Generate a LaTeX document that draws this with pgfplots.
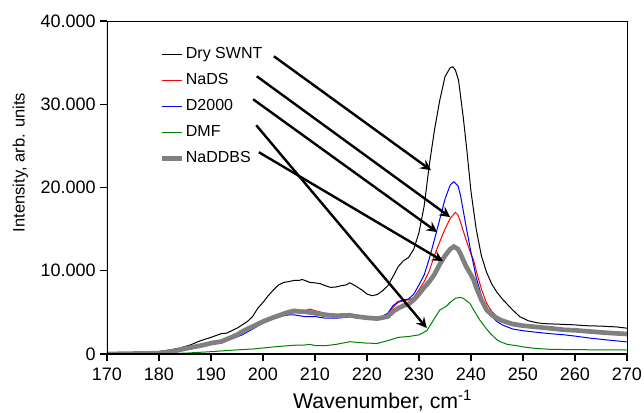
\documentclass[border=0pt]{standalone}
\usepackage{pgfplots}
\pgfplotsset{compat=1.18}
\usepackage{fontspec}
\setmainfont{Liberation Sans}
\usetikzlibrary{arrows.meta}
\definecolor{ngreen}{RGB}{0,128,0}
\definecolor{ngray}{RGB}{128,128,128}
\begin{document}
\begin{tikzpicture}
\begin{axis}[
  at={(0,0)}, anchor=south west,
  scale only axis, width=390pt, height=249.75pt,
  xmin=170, xmax=270, ymin=0, ymax=40000,
  xtick={170,180,...,270},
  ytick={0,10000,20000,30000,40000},
  yticklabels={0,10.000,20.000,30.000,40.000},
  scaled y ticks=false,
  /pgf/number format/assume math mode=true,
  ticklabel style={font=\fontsize{13.5}{15}\selectfont},
  xticklabel style={yshift=-2pt},
  tick align=outside, xtick pos=bottom, ytick pos=left,
  major tick length=5pt,
  tick style={black, line width=0.8pt},
  axis line style={line width=0.6pt},
  xlabel={Wavenumber, cm\textsuperscript{-1}},
  ylabel={Intensity, arb. units},
  xlabel style={font=\fontsize{16}{18}\selectfont, at={(ticklabel cs:0.53)}, yshift=0pt},
  ylabel style={font=\fontsize{12.4}{14}\selectfont, at={(ticklabel cs:0.575)}, yshift=2.5pt},
  legend style={draw=none, fill=none, inner sep=0pt,
    at={(rel axis cs:0.1,0.93)}, anchor=north west,
    font=\fontsize{12}{14}\selectfont, row sep=4.5pt,
    nodes={text height=9pt, text depth=3pt, inner sep=1.5pt},
    cells={anchor=west}},
  legend image code/.code={\draw[#1] (0pt,0pt) -- (15pt,0pt);},
]
\addplot[black, line width=0.75pt] coordinates {
(170,0) (172,30) (175,80) (178,200) (180,300) (182,480) (184,720) (186,1080)
(188,1600) (190,2000) (192,2450) (193,2500) (195,3100) (197,3900) (198,4500)
(199,5500) (200,6200) (201,7000) (202,7700) (203,8300) (204,8600) (205,8700)
(206,8850) (207,8850) (207.5,8950) (208,8850) (209,8600) (210,8550) (211,8450)
(212,8200) (213,8000) (214,8050) (215,8200) (216,8300) (216.7,8550) (218,8100)
(219,7700) (220,7200) (221,7000) (222,7150) (223,7600) (224,8200) (225,9300)
(226,10500) (227,11200) (228,11600) (229,12600) (230,14600) (231,17800)
(232,22800) (233,27000) (234,30500) (235,33300) (236,34400) (236.5,34500)
(237,34100) (237.6,32900) (238.5,28500) (239.2,24500) (240,19500) (241,15000)
(242,11800) (243,9800) (244,8400) (245,7400) (246.2,6480) (248,5300) (249.4,4480)
(251,4000) (252.6,3760) (254,3650) (256,3600) (258,3550) (260,3500)
(262,3400) (265,3350) (268,3250) (270,3100)
};
\addlegendentry{Dry SWNT}
\addplot[red, line width=0.75pt] coordinates {
(170,0) (175,50) (180,150) (183,300) (185,600) (188,1000) (190,1300) (192,1600)
(194,1900) (196,2600) (198,3300) (200,4000) (202,4500) (204,5000) (206,5400)
(207,5300) (208,5200) (209,5400) (210,5200) (212,4900) (214,4700) (216,4600)
(218,4700) (220,4400) (222,4300) (224,4700) (225,5600) (226,6200) (227,6400)
(228,6500) (229,6800) (230,7700) (231,8700) (232,10000) (233,11900) (234,13500)
(235,15000) (236,16300) (237,17000) (237.5,16700) (238,15800) (239,13800)
(240,12000) (240.5,11300) (241,10000) (242,7800) (243,6100) (244,5100)
(245,4500) (246,4100) (248,3600) (250,3350) (252,3200) (255,3050) (258,2900)
(260,2850) (265,2650) (270,2450)
};
\addlegendentry{NaDS}
\addplot[blue, line width=0.75pt] coordinates {
(170,0) (175,40) (180,150) (183,300) (185,550) (188,900) (190,1200) (192,1500)
(194,1800) (196,2300) (198,3000) (200,3700) (202,4200) (204,4600) (205,4700)
(206,4700) (207,4600) (208,4500) (210,4500) (212,4300) (214,4300) (216,4400)
(217,4500) (218,4400) (220,4200) (222,4200) (224,4900) (225,5800) (226,6300)
(227,6500) (228,6600) (229,7200) (230,8300) (231,9500) (232,11500) (233,13800)
(234,16200) (235,18600) (236,20300) (236.7,20700) (237.5,20200) (238,19000)
(239,15500) (240,12200) (241,9200) (242,7000) (243,5400) (244,4500) (245,3900)
(246,3500) (248,3000) (250,2800) (252,2650) (255,2450) (258,2300) (260,2150)
(263,1900) (266,1700) (270,1450)
};
\addlegendentry{D2000}
\addplot[ngreen, line width=0.75pt] coordinates {
(170,0) (180,20) (185,100) (190,280) (194.5,480) (198,600) (200,720) (202,850)
(204,960) (206,1050) (208,1080) (209,1150) (210,1020) (212,1000) (214,1150)
(216.7,1480) (218,1400) (220,1300) (222,1280) (224,1600) (226,2000) (228,2100)
(230,2300) (231.5,2800) (232.5,3800) (233.5,4800) (234,5280) (235.3,5760)
(236,6200) (237,6700) (237.9,6800) (238.5,6700) (239.8,6080) (240.5,5300)
(241.7,4080) (243,3000) (243.7,2480) (245,1700) (245.6,1480) (247,1150)
(248.8,1000) (250,850) (252,700) (255.2,560) (260,520) (265,500) (270,480)
};
\addlegendentry{DMF}
\addplot[ngray, line width=3.5pt] coordinates {
(170,0) (175,50) (180,100) (183,350) (185,650) (188,1000) (190,1300) (192,1500)
(193,1760) (195,2300) (196,2700) (198,3300) (200,3900) (202,4400) (203.3,4680)
(205,5050) (206,5150) (207,5100) (208,5080) (210,4900) (212,4700) (214,4600)
(216.7,4650) (218,4500) (220,4350) (222,4250) (224,4500) (225,5100) (226,5500)
(227,5800) (228,6000) (229,6500) (230,7200) (231,8000) (232,8700) (233,9600)
(234,10800) (235,11800) (236,12600) (236.7,12900) (237.5,12600) (238,12000)
(239,10600) (240,9500) (240.5,8900) (241,8000) (242,6500) (243,5300) (244,4700)
(245,4300) (246,4000) (248,3600) (250,3400) (252,3280) (255,3100) (258,2900)
(260,2850) (263,2700) (266,2550) (270,2400)
};
\addlegendentry{NaDDBS}
\draw[line width=1.4pt] (rel axis cs:0,1) -- (rel axis cs:0,0) -- (rel axis cs:1,0);
\begin{scope}[line width=1.8pt, -{Stealth[length=8pt, width=8pt, inset=3pt]}]
\draw (axis cs:202.1,35760) -- (axis cs:232.3,22080);
\draw (axis cs:198.8,33360) -- (axis cs:236.0,16440);
\draw (axis cs:198.1,30600) -- (axis cs:233.5,14640);
\draw (axis cs:198.7,27480) -- (axis cs:231.5,3120);
\draw (axis cs:199.2,24240) -- (axis cs:234.6,11160);
\end{scope}
\end{axis}
\pgfresetboundingbox
\useasboundingbox (-80.25pt,-43.5pt) rectangle (402.75pt,265.5pt);
\end{tikzpicture}
\end{document}
